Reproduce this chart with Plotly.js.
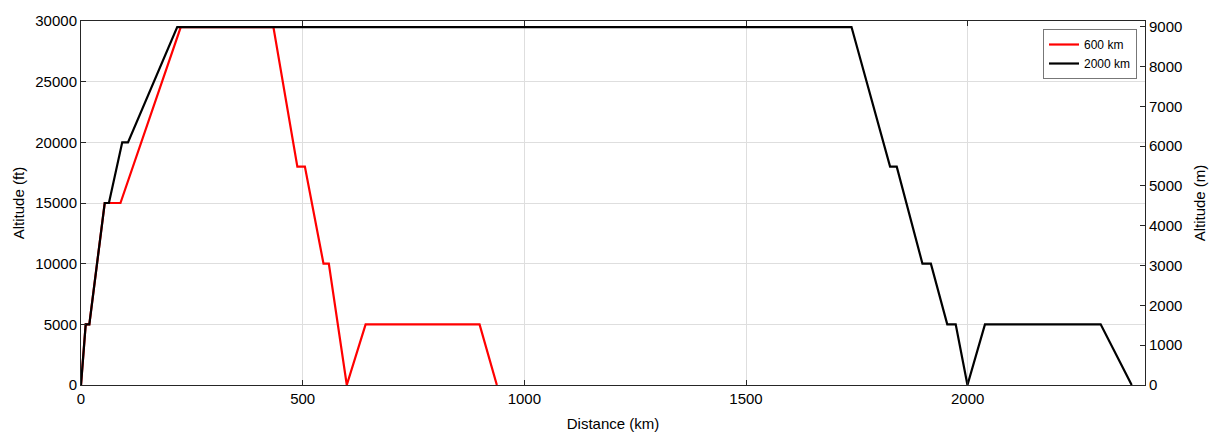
<!DOCTYPE html>
<html>
<head>
<meta charset="utf-8">
<script src="https://cdn.plot.ly/plotly-3.0.1.min.js"></script>
<style>html,body{margin:0;padding:0;background:#fff;}#chart{width:1214px;height:433px;}</style>
</head>
<body>
<div id="chart"></div>
<script>
// 600 km mission profile (distance km, altitude ft)
const dist600 = [0, 10.6, 18.8, 53.5, 89, 225, 434, 488, 505, 547, 559, 599.5, 642, 899, 938];
const alt600  = [0, 5000, 5000, 15000, 15000, 29500, 29500, 18000, 18000, 10000, 10000, 0, 5000, 5000, 0];
// 2000 km mission profile (distance km, altitude ft)
const dist2000 = [0, 10.6, 18.8, 53.5, 63, 93, 106, 217, 1738, 1825, 1840, 1898, 1917, 1954, 1973, 1999.5, 2039, 2300, 2370];
const alt2000  = [0, 5000, 5000, 15000, 15000, 20000, 20000, 29500, 29500, 18000, 18000, 10000, 10000, 5000, 5000, 0, 5000, 5000, 0];
const seriesNames = ['600 km', '2000 km'];
const FT_TO_M = 0.3048;

const font = {family: '"Liberation Sans", Arial, sans-serif', size: 15, color: '#000'};

const traces = [
  {x: dist600, y: alt600, name: seriesNames[0], type: 'scatter', mode: 'lines',
   line: {color: '#ff0000', width: 2.2}},
  {x: dist2000, y: alt2000, name: seriesNames[1], type: 'scatter', mode: 'lines',
   line: {color: '#000000', width: 2.2}},
  {x: dist2000, y: alt2000.map(v => v * FT_TO_M), yaxis: 'y2', type: 'scatter', mode: 'lines',
   showlegend: false, hoverinfo: 'skip', line: {color: 'rgba(0,0,0,0)', width: 0}}
];

const yMaxFt = 30000;
const layout = {
  width: 1214, height: 433,
  margin: {l: 81, r: 69, t: 21, b: 48},
  paper_bgcolor: '#fff', plot_bgcolor: '#fff',
  font: font,
  showlegend: true,
  legend: {x: 0.9925, y: 0.978, xanchor: 'right', yanchor: 'top',
           bgcolor: '#fff', bordercolor: '#777', borderwidth: 1,
           font: {family: font.family, size: 12, color: '#000'},
           tracegroupgap: 0, itemwidth: 30},
  xaxis: {range: [0, 2400], dtick: 500, tick0: 0, tickformat: 'd',
          showgrid: true, gridcolor: '#dedede', gridwidth: 1,
          zeroline: false, showline: true, linecolor: '#262626', linewidth: 1,
          mirror: 'ticks', ticks: 'inside', ticklen: 5, tickcolor: '#262626',
          tickfont: font,
          title: {text: 'Distance (km)', font: font, standoff: 12}},
  yaxis: {range: [0, yMaxFt], dtick: 5000, tick0: 0, tickformat: 'd',
          showgrid: true, gridcolor: '#dedede', gridwidth: 1,
          zeroline: false, showline: true, linecolor: '#262626', linewidth: 1,
          ticks: 'inside', ticklen: 5, tickcolor: '#262626',
          tickfont: font,
          title: {text: 'Altitude (ft)', font: font, standoff: 7}},
  yaxis2: {range: [0, yMaxFt * FT_TO_M], dtick: 1000, tick0: 0, tickformat: 'd',
           overlaying: 'y', side: 'right',
           showgrid: false, zeroline: false, showline: true, linecolor: '#262626', linewidth: 1,
           ticks: 'inside', ticklen: 5, tickcolor: '#262626',
           tickfont: font,
           title: {text: 'Altitude (m)', font: font, standoff: 13}}
};

Plotly.newPlot('chart', traces, layout, {staticPlot: true, displayModeBar: false});
</script>
</body>
</html>
